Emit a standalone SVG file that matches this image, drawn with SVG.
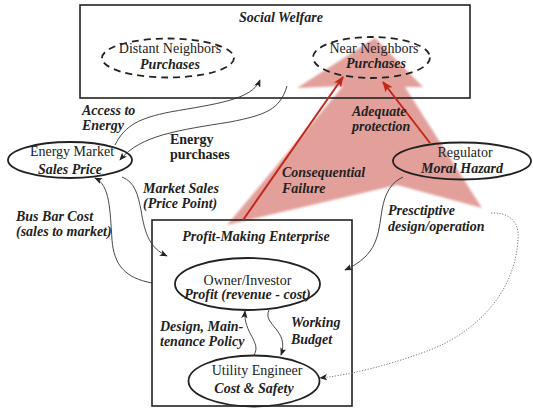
<svg xmlns="http://www.w3.org/2000/svg" width="533" height="412" viewBox="0 0 533 412">
<style>
.box{fill:none;stroke:#222;stroke-width:1.6}
.ell{fill:none;stroke:#222;stroke-width:1.8}
.dash{fill:none;stroke:#222;stroke-width:1.8;stroke-dasharray:7 5}
.t{font-family:"Liberation Serif","Times New Roman",serif;font-size:14px;fill:#222}
.bi{font-family:"Liberation Serif","Times New Roman",serif;font-size:14px;font-weight:bold;font-style:italic;fill:#222}
.b{font-family:"Liberation Serif","Times New Roman",serif;font-size:14px;font-weight:bold;fill:#222}
.c{text-anchor:middle}
.con{fill:none;stroke:#333;stroke-width:0.9}
.dot{fill:none;stroke:#777;stroke-width:1;stroke-dasharray:1.2 1.6}
.red{fill:none;stroke:#c0281c;stroke-width:2}
</style>
<defs>
<marker id="ah" viewBox="0 0 10 8" refX="9" refY="4" markerWidth="8" markerHeight="6.4" markerUnits="userSpaceOnUse" orient="auto">
<path d="M0,0 L10,4 L0,8 L2.5,4 z" fill="#222"/>
</marker>
<marker id="ahr" viewBox="0 0 10 8" refX="9" refY="4" markerWidth="11" markerHeight="8.8" markerUnits="userSpaceOnUse" orient="auto">
<path d="M0,0 L10,4 L0,8 L2.5,4 z" fill="#c0281c"/>
</marker>
<filter id="soft" x="-10%" y="-10%" width="120%" height="120%">
<feGaussianBlur stdDeviation="1.2"/>
</filter>
</defs>

<g id="pink-arrow">
<polygon points="375,38 423,87 405,87 482,208 397,185 227,225 343,86 297,88" fill="#e3a09b" filter="url(#soft)"/>
</g>

<g id="social-welfare">
<rect class="box" x="80" y="5" width="390" height="93"/>
<text class="bi c" x="281" y="22">Social Welfare</text>
</g>

<g id="distant-neighbors">
<ellipse class="dash" cx="168" cy="58" rx="66" ry="19.5"/>
<text class="t c" x="170" y="53">Distant Neighbors</text>
<text class="bi c" x="170" y="69">Purchases</text>
</g>

<g id="near-neighbors">
<ellipse class="dash" cx="371.5" cy="57.5" rx="58.5" ry="20.5"/>
<text class="t c" x="374" y="52.5">Near Neighbors</text>
<text class="bi c" x="376" y="68">Purchases</text>
</g>

<g id="energy-market">
<ellipse class="ell" cx="70" cy="160" rx="62" ry="18"/>
<text class="t c" x="72" y="156">Energy Market</text>
<text class="bi c" x="70" y="174">Sales Price</text>
</g>

<g id="regulator">
<ellipse class="ell" cx="462" cy="161" rx="69" ry="18.5"/>
<text class="t c" x="465" y="157">Regulator</text>
<text class="bi c" x="462" y="173">Moral Hazard</text>
</g>

<g id="profit-making-enterprise">
<rect class="box" x="152" y="220" width="200" height="186"/>
<text class="bi c" x="256" y="241">Profit-Making Enterprise</text>
</g>

<g id="owner-investor">
<ellipse class="ell" cx="247.5" cy="284" rx="72.5" ry="26"/>
<text class="t c" x="247.5" y="285">Owner/Investor</text>
<text class="bi c" x="247.5" y="299">Profit (revenue - cost)</text>
</g>

<g id="utility-engineer">
<ellipse class="ell" cx="254" cy="381" rx="65.5" ry="25.5"/>
<text class="t c" x="257" y="375">Utility Engineer</text>
<text class="bi c" x="254" y="393">Cost &amp; Safety</text>
</g>

<g id="connectors">
<path class="con" marker-end="url(#ah)" d="M115,145 C125,125 140,118 170,112 C215,104 252,100 260,80"/>
<path class="con" marker-end="url(#ah)" d="M287,86 C280,110 265,115 230,122 C180,130 140,135 120,160"/>
<path class="con" marker-end="url(#ah)" d="M122,177 C135,182 138,195 141,210 C145,235 150,248 167,256"/>
<path class="con" marker-end="url(#ah)" d="M152,283 C125,278 114,265 112,240 C110,210 110,185 95,178"/>
<path class="con" marker-end="url(#ah)" d="M403,177 C392,182 385,192 382,210 C378,235 378,255 345,270"/>
<path class="dot" marker-end="url(#ah)" d="M491,213 C512,212 520,225 518,240 C515,290 480,330 430,350 C390,365 350,375 320,378"/>
<path class="con" marker-end="url(#ah)" d="M254,355 C262,342 243,333 245,311"/>
<path class="con" marker-end="url(#ah)" d="M269,310 C262,325 290,330 281,355"/>
<path class="red" marker-end="url(#ahr)" d="M243,220 L343,77"/>
<path class="red" marker-end="url(#ahr)" d="M430,143 L383,82"/>
</g>

<g id="labels">
<text class="bi" x="82" y="115">Access to</text>
<text class="bi" x="82" y="130">Energy</text>
<text class="b" x="170" y="144">Energy</text>
<text class="b" x="170" y="159">purchases</text>
<text class="bi" x="143" y="193">Market Sales</text>
<text class="bi" x="143" y="208">(Price Point)</text>
<text class="bi" x="16" y="221">Bus Bar Cost</text>
<text class="bi" x="16" y="236">(sales to market)</text>
<text class="bi" x="282" y="177">Consequential</text>
<text class="bi" x="282" y="193">Failure</text>
<text class="bi" x="352" y="116">Adequate</text>
<text class="bi" x="352" y="131">protection</text>
<text class="bi" x="388" y="215">Presctiptive</text>
<text class="bi" x="388" y="231">design/operation</text>
<text class="bi" x="160" y="331">Design, Main-</text>
<text class="bi" x="160" y="346">tenance Policy</text>
<text class="bi" x="291" y="327">Working</text>
<text class="bi" x="291" y="344">Budget</text>
</g>
</svg>
